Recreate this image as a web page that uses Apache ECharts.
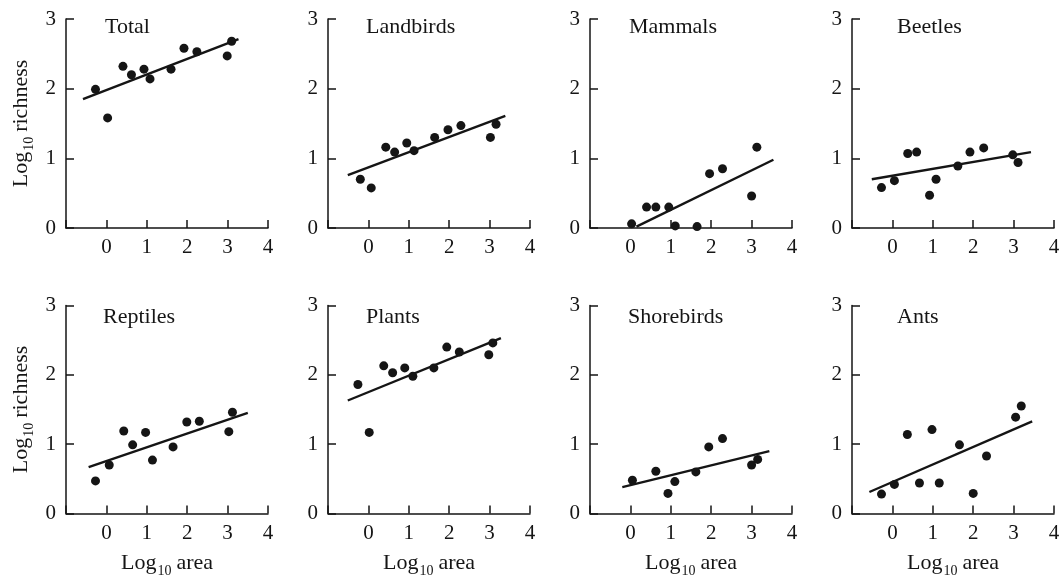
<!DOCTYPE html>
<html>
<head>
<meta charset="utf-8">
<script src="https://cdn.jsdelivr.net/npm/echarts@6/dist/echarts.min.js"></script>
<style>
  html, body { margin: 0; padding: 0; background: #fff; }
  #chart { width: 1062px; height: 575px; }
</style>
</head>
<body>
<div id="chart"></div>
<script>
// Species–area relationships: log10 richness against log10 island area.
const panelNames = ['Total', 'Landbirds', 'Mammals', 'Beetles', 'Reptiles', 'Plants', 'Shorebirds', 'Ants'];

// [log10 area, log10 richness] for each island
const total = [[-0.27, 1.99], [0.03, 1.58], [0.41, 2.32], [0.62, 2.20], [0.93, 2.28], [1.08, 2.14],
  [1.60, 2.28], [1.92, 2.58], [2.24, 2.53], [2.99, 2.47], [3.10, 2.68]];
const landbirds = [[-0.20, 0.70], [0.07, 0.575], [0.43, 1.16], [0.65, 1.09], [0.95, 1.22], [1.13, 1.11],
  [1.64, 1.30], [1.97, 1.41], [2.29, 1.47], [3.02, 1.30], [3.16, 1.49]];
const mammals = [[0.03, 0.06], [0.40, 0.30], [0.63, 0.30], [0.95, 0.30], [1.11, 0.03], [1.65, 0.02],
  [1.96, 0.78], [2.28, 0.85], [3.00, 0.46], [3.13, 1.16]];
const beetles = [[-0.27, 0.58], [0.05, 0.68], [0.38, 1.07], [0.60, 1.09], [0.92, 0.47], [1.08, 0.70],
  [1.62, 0.89], [1.92, 1.09], [2.26, 1.15], [2.98, 1.05], [3.11, 0.94]];
const reptiles = [[-0.27, 0.47], [0.07, 0.70], [0.43, 1.19], [0.65, 0.99], [0.97, 1.17], [1.14, 0.77],
  [1.65, 0.96], [1.99, 1.32], [2.30, 1.33], [3.03, 1.18], [3.12, 1.46]];
const plants = [[-0.26, 1.86], [0.02, 1.17], [0.38, 2.13], [0.60, 2.03], [0.90, 2.10], [1.10, 1.98],
  [1.62, 2.10], [1.94, 2.40], [2.25, 2.33], [2.98, 2.29], [3.08, 2.46]];
const shorebirds = [[0.05, 0.48], [0.63, 0.61], [0.93, 0.29], [1.10, 0.46], [1.62, 0.60], [1.94, 0.96],
  [2.28, 1.08], [3.00, 0.70], [3.15, 0.78]];
const ants = [[-0.27, 0.28], [0.05, 0.42], [0.37, 1.14], [0.67, 0.44], [0.98, 1.21], [1.16, 0.44],
  [1.66, 0.99], [2.00, 0.29], [2.33, 0.83], [3.05, 1.39], [3.19, 1.55]];

// Fitted regression lines: [start, end] in data units
const totalFit = [[-0.58, 1.85], [3.27, 2.71]];
const landbirdsFit = [[-0.51, 0.76], [3.39, 1.61]];
const mammalsFit = [[0.15, 0.02], [3.54, 0.98]];
const beetlesFit = [[-0.51, 0.70], [3.43, 1.09]];
const reptilesFit = [[-0.44, 0.67], [3.50, 1.45]];
const plantsFit = [[-0.51, 1.63], [3.28, 2.53]];
const shorebirdsFit = [[-0.20, 0.38], [3.44, 0.90]];
const antsFit = [[-0.57, 0.31], [3.46, 1.33]];

const xTicks = [0, 1, 2, 3, 4];
const yTicks = [0, 1, 2, 3];

const points = [total, landbirds, mammals, beetles, reptiles, plants, shorebirds, ants];
const fits = [totalFit, landbirdsFit, mammalsFit, beetlesFit, reptilesFit, plantsFit, shorebirdsFit, antsFit];

const FONT = "'Liberation Serif', 'DejaVu Serif', serif";
const INK = '#151515';
const colLeft = [66, 328, 590, 852];
const rowTop = [19, 305.5];
const rowHeight = [209, 208];
const titleLeft = [105, 366, 629, 897, 103, 366, 628, 897];
const titleTop = [16, 306];

// "Log" with a lowered "10" subscript
const richSub = {
  main: { fontFamily: FONT, fontSize: 22, color: INK, lineHeight: 24, verticalAlign: 'top' },
  sub: { fontFamily: FONT, fontSize: 14, color: INK, lineHeight: 14, padding: [12, 5, 0, 1], verticalAlign: 'top' }
};

const grids = [], xAxes = [], yAxes = [], series = [], titles = [];

points.forEach((pts, i) => {
  const row = Math.floor(i / 4), col = i % 4;
  grids.push({
    left: colLeft[col], top: rowTop[row], width: 202, height: rowHeight[row],
    containLabel: false, outerBoundsMode: 'none'
  });

  const axisLine = { show: true, onZero: false, lineStyle: { color: INK, width: 1.5 } };
  const axisTick = { show: true, inside: true, length: 8, lineStyle: { color: INK, width: 1.5 } };
  const axisLabelStyle = { fontFamily: FONT, fontSize: 21, color: INK };

  const xa = {
    gridIndex: i, type: 'value', min: -1, max: 4, interval: 1,
    axisLine, axisTick, splitLine: { show: false },
    axisLabel: Object.assign({}, axisLabelStyle, {
      margin: 9,
      formatter: v => (xTicks.indexOf(v) >= 0 ? String(v) : '')
    })
  };
  if (row === 1) {
    xa.name = '{main|Log}{sub|10}{main|area}';
    xa.nameLocation = 'middle';
    xa.nameGap = 39;
    xa.nameTextStyle = { rich: richSub };
  }
  xAxes.push(xa);

  const ya = {
    gridIndex: i, type: 'value', min: 0, max: 3, interval: 1,
    axisLine, axisTick, splitLine: { show: false },
    axisLabel: Object.assign({}, axisLabelStyle, {
      margin: 10,
      formatter: v => (yTicks.indexOf(v) >= 0 ? String(v) : '')
    })
  };
  if (col === 0) {
    ya.name = '{main|Log}{sub|10}{main|richness}';
    ya.nameLocation = 'middle';
    ya.nameRotate = 90;
    ya.nameGap = 32;
    ya.nameTextStyle = { rich: richSub };
  }
  yAxes.push(ya);

  titles.push({
    text: panelNames[i], left: titleLeft[i], top: titleTop[row], padding: 0,
    textStyle: { fontFamily: FONT, fontSize: 22, fontWeight: 'normal', color: INK }
  });

  series.push({
    type: 'line', xAxisIndex: i, yAxisIndex: i, data: fits[i],
    symbol: 'none', silent: true, lineStyle: { color: INK, width: 2.4 }, z: 2
  });
  series.push({
    type: 'scatter', xAxisIndex: i, yAxisIndex: i, data: pts,
    symbol: 'circle', symbolSize: 9, itemStyle: { color: INK, opacity: 1 }, z: 3
  });
});

const chart = echarts.init(document.getElementById('chart'), null, { renderer: 'canvas' });
chart.setOption({
  backgroundColor: '#ffffff',
  animation: false,
  title: titles,
  grid: grids,
  xAxis: xAxes,
  yAxis: yAxes,
  series: series
});
</script>
</body>
</html>
